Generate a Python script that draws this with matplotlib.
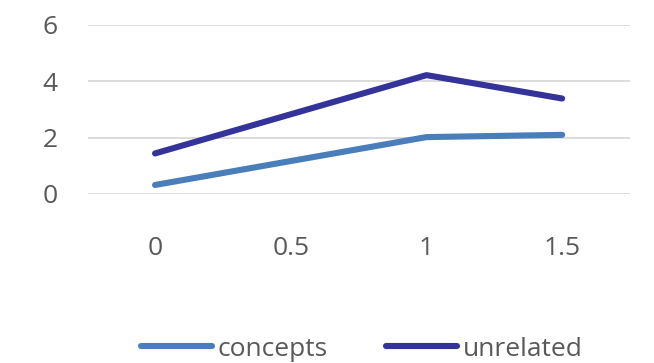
import matplotlib
matplotlib.use("Agg")
import matplotlib.pyplot as plt

x_vals = [0, 1, 1.5]
concepts = [0.32, 2.02, 2.1]
unrelated = [1.44, 4.22, 3.39]
x_ticks = [0, 0.5, 1, 1.5]
x_ticklabels = ["0", "0.5", "1", "1.5"]
y_ticks = [0, 2, 4, 6]

TXT = "#595959"
FS = 19
plt.rcParams["font.family"] = ["Open Sans", "DejaVu Sans"]

fig = plt.figure(figsize=(6.54, 3.63), dpi=100)
ax = fig.add_axes([88/654, 1-194/363, (630-88)/654, (194-25)/363])

ax.plot(x_vals, concepts, color="#4A7EBB", lw=4.4, solid_capstyle="round", solid_joinstyle="round", label="concepts", zorder=3)
ax.plot(x_vals, unrelated, color="#33339A", lw=4.4, solid_capstyle="round", solid_joinstyle="round", label="unrelated", zorder=3)

ax.set_xlim(-0.247, 1.75)
ax.set_ylim(0, 6)
ax.set_yticks(y_ticks)
ax.set_xticks(x_ticks)
ax.set_xticklabels(x_ticklabels)
ax.grid(axis="y", color="#D9D9D9", lw=1.3)
ax.set_axisbelow(True)
for s in ax.spines.values():
    s.set_visible(False)
ax.tick_params(axis="both", length=0, labelsize=FS, colors=TXT)
ax.tick_params(axis="x", pad=30)
ax.tick_params(axis="y", pad=22)
for lab in ax.get_yticklabels():
    lab.set_clip_on(False)

leg = fig.legend(loc="center", bbox_to_anchor=(0.553, 1-349/363), ncol=2, frameon=False,
                 fontsize=FS, handlelength=2.7, handletextpad=0.22, columnspacing=2.2)
for t in leg.get_texts():
    t.set_color(TXT)

fig.savefig("out.png", dpi=100, facecolor="white")
